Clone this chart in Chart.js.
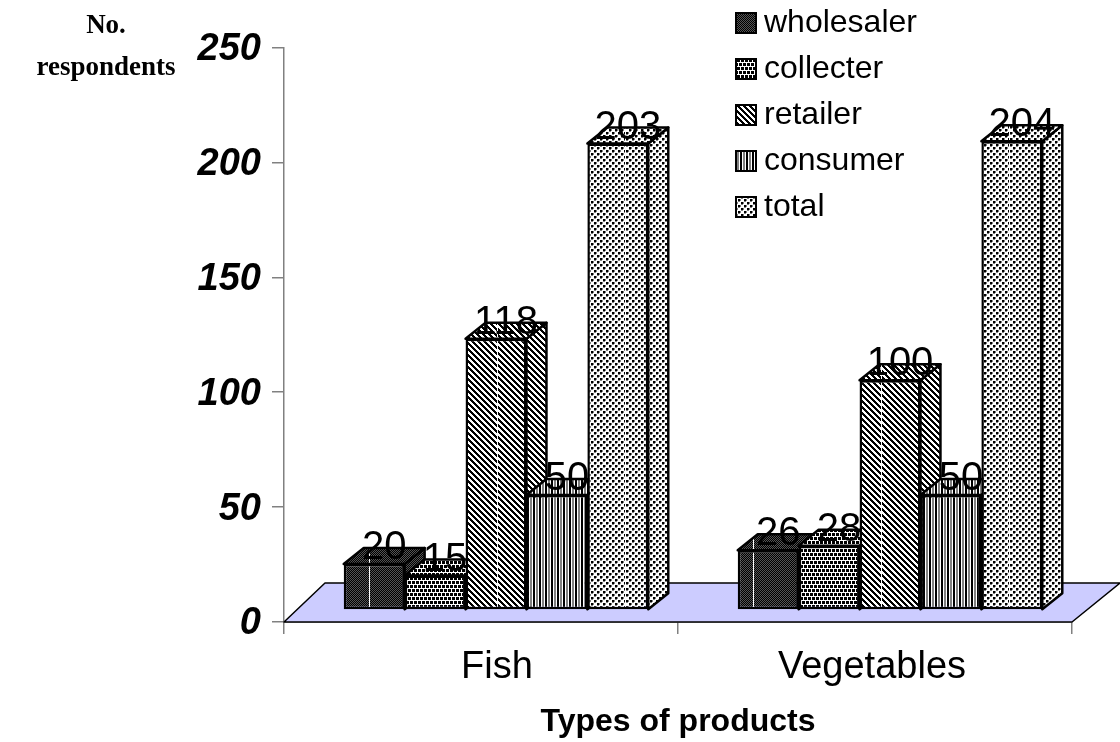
<!DOCTYPE html>
<html lang="en">
<head>
  <meta charset="UTF-8" />
  <title>No. respondents by type of product</title>
  <style>
    body { margin: 0; background: #fff; }
    canvas { display: block; }
  </style>
</head>
<body>
  <canvas id="grafico" width="1120" height="742"></canvas>

  <script src="https://cdn.jsdelivr.net/npm/chart.js"></script>
  <script>
    const categories = ['Fish', 'Vegetables'];
    const seriesNames = ['wholesaler', 'collecter', 'retailer', 'consumer', 'total'];
    const wholesaler = [20, 26];
    const collecter = [15, 28];
    const retailer = [118, 100];
    const consumer = [50, 50];
    const total = [203, 204];
    const yTicks = [0, 50, 100, 150, 200, 250];

    // pixel tiles for the hatch fills: # black, d dark grey, g grey, . white
    const tileWholesaler = ['d#', '#d'];
    const tileCollecter = ['........', '#.###.##', '#.###.##', '#.###.##',
                           '........', '###.###.', '###.###.', '###.###.'];
    const tileRetailer = ['###...', '.###..', '..###.', '...###', '#...##', '##...#'];
    const tileConsumer = ['#.gg.#'];
    const tileTotal = ['##g...', '##g...', 'gg....', '...##g', '...##g', '...gg.'];
    const tiles = [tileWholesaler, tileCollecter, tileRetailer, tileConsumer, tileTotal];

    const shades = { '#': '#000000', 'd': '#555555', 'g': '#808080', '.': '#ffffff' };

    // bars sit on the floor, a bit in front of the axis line
    const barShift = { x: 15, y: -12 };
    const depth = { x: 20, y: -16 };
    const floorBack = { left: 41, right: 48, up: 39 };
    // the category names are not centred in their slots in the original
    const catLabelShift = [16, -3];

    function tileCanvas(tile, width, height, seam) {
      const c = document.createElement('canvas');
      c.width = width;
      c.height = height;
      const g = c.getContext('2d');
      for (let y = 0; y < height; y++) {
        const row = tile[y % tile.length];
        for (let x = 0; x < width; x++) {
          g.fillStyle = shades[row[x % row.length]];
          g.fillRect(x, y, 1, 1);
        }
      }
      if (seam) {
        g.fillStyle = '#fff';
        g.fillRect(width - 1, 0, 1, height);
      }
      return c;
    }

    const patterns = tiles.map(tile => {
      const c = tileCanvas(tile, 128, tile.length * 4, true);
      const p = document.createElement('canvas').getContext('2d').createPattern(c, 'repeat');
      p.setTransform(new DOMMatrix().translate(-29, 0));
      return p;
    });

    const legendBoxes = tiles.map(tile => {
      const c = tileCanvas(tile, 22, 22, false);
      const g = c.getContext('2d');
      g.strokeStyle = '#000';
      g.lineWidth = 2;
      g.strokeRect(1, 1, 20, 20);
      return c;
    });

    const seriesValues = [wholesaler, collecter, retailer, consumer, total];

    function face(ctx, pts, fill) {
      ctx.beginPath();
      ctx.moveTo(pts[0][0], pts[0][1]);
      pts.slice(1).forEach(p => ctx.lineTo(p[0], p[1]));
      ctx.closePath();
      ctx.fillStyle = fill;
      ctx.fill();
      ctx.stroke();
    }

    const plot3d = {
      id: 'plot3d',
      afterLayout(chart) {
        chart.legend.left = 730;
        chart.legend.top = -7;
      },
      beforeDatasetsDraw(chart) {
        const { ctx, chartArea: a } = chart;
        ctx.save();
        ctx.lineJoin = 'round';
        ctx.strokeStyle = '#000';
        ctx.lineWidth = 1.5;
        face(ctx, [
          [a.left, a.bottom],
          [a.right, a.bottom],
          [a.right + floorBack.right, a.bottom - floorBack.up],
          [a.left + floorBack.left, a.bottom - floorBack.up]
        ], '#ccccff');

        ctx.translate(barShift.x, barShift.y);
        ctx.lineWidth = 2.5;
        categories.forEach((cat, j) => {
          chart.data.datasets.forEach((ds, i) => {
            const el = chart.getDatasetMeta(i).data[j];
            const l = el.x - el.width / 2, r = el.x + el.width / 2;
            face(ctx, [[r, el.y], [r + depth.x, el.y + depth.y], [r + depth.x, el.base + depth.y], [r, el.base]], ds.backgroundColor);
            face(ctx, [[l, el.y], [l + depth.x, el.y + depth.y], [r + depth.x, el.y + depth.y], [r, el.y]], ds.backgroundColor);
            el.draw(ctx);
          });
        });
        ctx.restore();
        return false;
      },
      afterDraw(chart) {
        const { ctx, scales } = chart;
        ctx.save();
        ctx.fillStyle = '#000';

        // value labels, above the top face of each bar
        ctx.font = '40px "Liberation Sans", Arial, sans-serif';
        ctx.textAlign = 'center';
        ctx.textBaseline = 'middle';
        chart.data.datasets.forEach((ds, i) => {
          chart.getDatasetMeta(i).data.forEach((el, j) => {
            ctx.fillText(String(ds.data[j]), el.x + barShift.x + depth.x / 2, el.y + barShift.y + depth.y);
          });
        });

        // category names
        ctx.font = '38px "Liberation Sans", Arial, sans-serif';
        categories.forEach((cat, j) => {
          ctx.fillText(cat, scales.x.getPixelForValue(j) + catLabelShift[j], 668);
        });

        // y axis title
        ctx.font = 'bold 27px "Liberation Serif", "Times New Roman", serif';
        ctx.fillText('No.', 106, 26);
        ctx.fillText('respondents', 106, 68);
        ctx.restore();
      }
    };

    new Chart(document.getElementById('grafico'), {
      type: 'bar',
      data: {
        labels: categories,
        datasets: seriesNames.map((name, i) => ({
          label: name,
          data: seriesValues[i],
          backgroundColor: patterns[i],
          borderColor: '#000',
          borderWidth: 2.5,
          borderSkipped: false,
          barPercentage: 1,
          categoryPercentage: 0.773
        }))
      },
      options: {
        responsive: false,
        animation: false,
        layout: { padding: { top: 47.5, right: 48, left: 0, bottom: 0 } },
        plugins: {
          tooltip: { enabled: false },
          legend: {
            position: 'chartArea',
            align: 'start',
            fullSize: false,
            labels: {
              color: '#000',
              font: { size: 32, family: '"Liberation Sans", Arial, sans-serif' },
              padding: 14,
              usePointStyle: true,
              pointStyleWidth: 4,
              generateLabels: () => seriesNames.map((name, i) => ({
                text: name,
                pointStyle: legendBoxes[i],
                datasetIndex: i,
                fontColor: '#000'
              }))
            }
          }
        },
        scales: {
          x: {
            afterFit(s) { s.height = 120; },
            grid: { drawOnChartArea: false, drawTicks: true, tickLength: 12, color: '#808080', lineWidth: 1.5, offset: true },
            border: { color: '#808080', width: 1.5 },
            ticks: { display: false },
            title: {
              display: true,
              text: 'Types of products',
              color: '#000',
              font: { size: 32, weight: 'bold', family: '"Liberation Sans", Arial, sans-serif' },
              padding: { top: 0, bottom: 1 }
            }
          },
          y: {
            min: yTicks[0],
            max: yTicks[yTicks.length - 1],
            afterFit(s) { s.width = 284; },
            grid: { drawOnChartArea: false, tickLength: 12, color: '#808080', lineWidth: 1.5 },
            border: { color: '#808080', width: 1.5 },
            afterBuildTicks(s) { s.ticks = yTicks.map(v => ({ value: v })); },
            ticks: {
              color: '#000',
              padding: 11,
              labelOffset: 2,
              font: { size: 38, weight: 'bold', style: 'italic', family: '"Liberation Sans", Arial, sans-serif' }
            }
          }
        }
      },
      plugins: [plot3d]
    });
  </script>
</body>
</html>
